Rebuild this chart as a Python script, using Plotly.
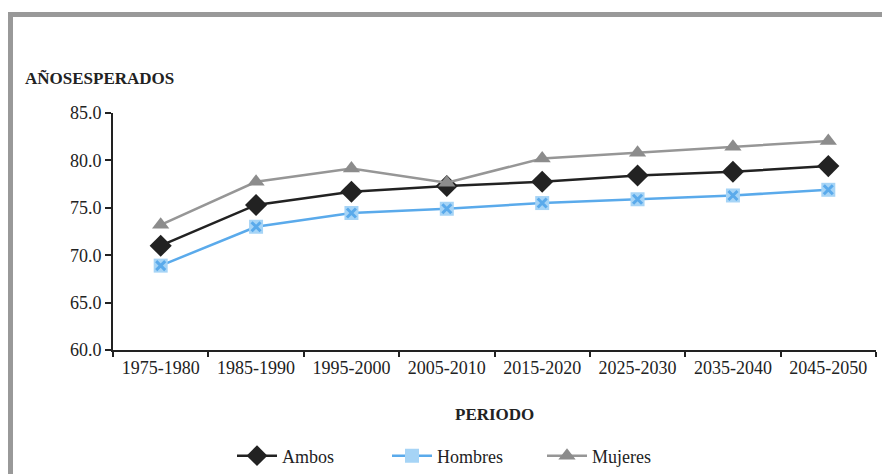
import plotly.graph_objects as go

periodos = ["1975-1980", "1985-1990", "1995-2000", "2005-2010",
            "2015-2020", "2025-2030", "2035-2040", "2045-2050"]
ambos = [71.0, 75.3, 76.7, 77.3, 77.75, 78.4, 78.8, 79.4]
hombres = [68.9, 73.0, 74.45, 74.9, 75.5, 75.9, 76.3, 76.9]
mujeres = [73.2, 77.75, 79.15, 77.65, 80.2, 80.8, 81.45, 82.05]
y_ticks = [60, 65, 70, 75, 80, 85]

W, H = 882, 474
L, R, T = 113, 6, 113
B = H - 350
pw, ph = W - L - R, H - T - B

def px(x):
    return (x - L) / pw

def py(y):
    return (H - B - y) / ph

FONT = "Liberation Serif, Times New Roman, serif"
DARK = "#222222"

fig = go.Figure()
fig.add_trace(go.Scatter(
    x=periodos, y=ambos, name="Ambos", mode="lines+markers",
    line=dict(color=DARK, width=2.5),
    marker=dict(symbol="diamond", size=17, color=DARK,
                line=dict(color=DARK, width=0))))
fig.add_trace(go.Scatter(
    x=periodos, y=hombres, name="Hombres", mode="lines+markers",
    legendgroup="h",
    line=dict(color="#5aaaeb", width=2.5),
    marker=dict(symbol="square", size=14, color="#a6d4f6",
                line=dict(width=0))))
fig.add_trace(go.Scatter(
    x=periodos, y=hombres, name="Hombres", mode="markers",
    legendgroup="h", showlegend=False, hoverinfo="skip",
    marker=dict(symbol="x-thin", size=9, color="#5aaaeb",
                line=dict(color="#5aaaeb", width=3))))
fig.add_trace(go.Scatter(
    x=periodos, y=mujeres, name="Mujeres", mode="lines+markers",
    line=dict(color="#969696", width=2.5),
    marker=dict(symbol="triangle-up", size=15, color="#8c8c8c",
                line=dict(color="#8c8c8c", width=0))))

# gray frame (top and left)
fig.add_shape(type="rect", xref="paper", yref="paper",
              x0=px(8), x1=px(13), y0=py(H), y1=py(12),
              fillcolor="#999999", line=dict(width=0), layer="below")
fig.add_shape(type="rect", xref="paper", yref="paper",
              x0=px(8), x1=px(882), y0=py(17), y1=py(12),
              fillcolor="#999999", line=dict(width=0), layer="below")

fig.add_annotation(text="<b>AÑOSESPERADOS</b>", xref="paper", yref="paper",
                   x=px(23), y=py(78), xanchor="left", yanchor="middle",
                   showarrow=False, font=dict(family=FONT, size=17, color=DARK))
fig.add_annotation(text="<b>PERIODO</b>", xref="paper", yref="paper",
                   x=0.5, y=py(414), xanchor="center", yanchor="middle",
                   showarrow=False, font=dict(family=FONT, size=17, color=DARK))

fig.update_layout(
    width=W, height=H,
    margin=dict(l=L, r=R, t=T, b=B, autoexpand=False),
    paper_bgcolor="white", plot_bgcolor="white",
    font=dict(family=FONT, size=18, color=DARK),
    showlegend=True,
    legend=dict(orientation="h", xref="container", yref="container",
                x=232 / W, xanchor="left",
                y=1 - 456 / H, yanchor="middle",
                font=dict(family=FONT, size=18, color=DARK),
                entrywidth=100, entrywidthmode="pixels",
                itemwidth=40, tracegroupgap=0),
)
fig.update_xaxes(
    type="category", range=[-0.5, 7.5], automargin=False,
    showline=True, linecolor=DARK, linewidth=2,
    ticks="outside", tickson="boundaries", ticklen=5, tickcolor=DARK, tickwidth=2,
    showgrid=False, zeroline=False,
    tickfont=dict(family=FONT, size=18, color=DARK))
fig.update_yaxes(
    range=[60, 85], tickvals=y_ticks, tickformat=".1f", automargin=False,
    showline=True, linecolor=DARK, linewidth=2,
    ticks="outside", ticklen=6, tickcolor=DARK, tickwidth=2,
    showgrid=False, zeroline=False,
    tickfont=dict(family=FONT, size=18, color=DARK))

fig.write_html("out.html", config={"displayModeBar": False},
               post_script="document.body.style.margin='0';")
